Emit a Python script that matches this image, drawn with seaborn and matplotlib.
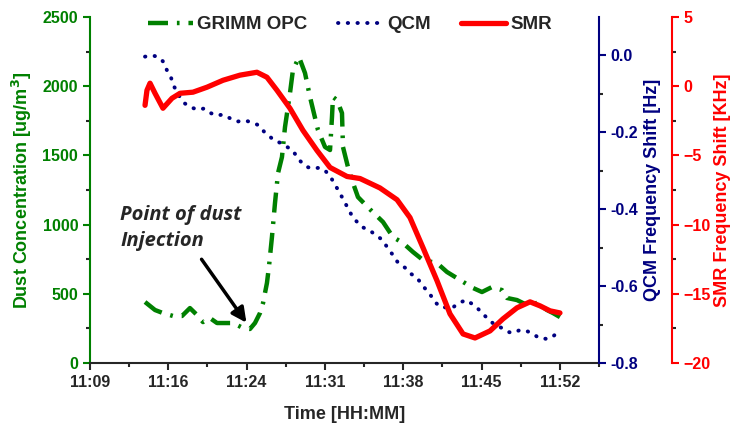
import matplotlib
matplotlib.use("Agg")
import matplotlib.pyplot as plt
from matplotlib.ticker import FixedLocator, MultipleLocator
import seaborn as sns
import pandas as pd

# time axis is in minutes after midnight (axis runs 0.465-0.4975 day)
x_ticks = [669.6, 676.8, 684.0, 691.2, 698.4, 705.6, 712.8]
x_labels = ["11:09", "11:16", "11:24", "11:31", "11:38", "11:45", "11:52"]

grimm_t = [674.66, 675.58, 676.31, 677.23, 678.06, 678.79, 679.44, 679.99, 680.63, 681.28,
           682.01, 682.75, 683.67, 684.31, 684.77, 685.23, 685.51, 685.69, 685.87, 686.06,
           686.33, 686.61, 686.89, 687.25, 687.53, 687.99, 688.26, 688.82, 689.37, 689.83,
           690.56, 691.21, 691.67, 691.85, 691.94, 692.31, 692.77, 692.86, 693.32, 693.78,
           694.24, 695.35, 696.54, 697.46, 698.38, 699.30, 700.22, 701.51, 702.42, 703.62,
           704.82, 705.64, 706.56, 707.48, 707.94, 708.86, 709.78, 710.70, 711.62, 712.17,
           712.81]
grimm_v = [441, 383, 361, 340, 340, 397, 347, 296, 325, 289,
           289, 289, 253, 246, 289, 361, 433, 506, 578, 700,
           910, 1156, 1373, 1488, 1705, 1951, 2117, 2211, 2095, 1922,
           1684, 1561, 1539, 1777, 1922, 1900, 1806, 1561, 1416, 1301,
           1199, 1110, 1019, 910, 867, 802, 744, 722, 658, 600,
           542, 513, 549, 527, 470, 455, 419, 434, 383, 361,
           332]

qcm_t = [674.66, 675.39, 675.94, 676.40, 676.68, 677.05, 677.23, 677.60, 677.88, 678.33,
         678.98, 679.53, 680.08, 680.63, 681.19, 681.83, 682.38, 683.12, 683.85, 684.59,
         685.14, 685.60, 686.15, 686.43, 687.07, 687.53, 688.17, 688.91, 689.46, 690.01,
         690.75, 691.30, 691.76, 692.13, 692.49, 692.86, 693.78, 694.61, 695.35, 696.45,
         696.91, 697.37, 697.92, 698.56, 699.11, 699.67, 700.13, 700.59, 700.95, 701.32,
         701.78, 702.88, 703.53, 704.17, 704.72, 705.28, 705.83, 706.29, 706.84, 707.48,
         708.03, 708.49, 709.14, 709.78, 710.33, 710.88, 711.53, 711.99, 712.54]
qcm_v = [-0.003, 0.000, -0.005, -0.018, -0.039, -0.057, -0.076, -0.094, -0.109, -0.125,
         -0.136, -0.141, -0.138, -0.149, -0.156, -0.154, -0.162, -0.172, -0.169, -0.175,
         -0.182, -0.198, -0.211, -0.219, -0.227, -0.235, -0.245, -0.274, -0.289, -0.294,
         -0.292, -0.302, -0.318, -0.336, -0.354, -0.373, -0.422, -0.446, -0.456, -0.479,
         -0.498, -0.516, -0.539, -0.552, -0.568, -0.578, -0.597, -0.612, -0.625, -0.641,
         -0.654, -0.657, -0.644, -0.636, -0.646, -0.659, -0.675, -0.688, -0.701, -0.709,
         -0.719, -0.722, -0.714, -0.717, -0.724, -0.735, -0.737, -0.735, -0.722]

smr_t = [674.66, 674.84, 675.12, 675.58, 676.31, 677.14, 677.88, 679.07, 680.36, 681.83,
         683.39, 684.95, 685.87, 686.79, 687.99, 689.18, 690.47, 691.67, 693.23, 694.43,
         696.26, 697.83, 699.02, 700.22, 701.51, 702.70, 703.90, 705.00, 706.38, 707.57,
         708.86, 710.06, 710.98, 711.90, 712.81]
smr_v = [-1.38, -0.29, 0.22, -0.51, -1.59, -0.87, -0.51, -0.43, -0.07, 0.43,
         0.80, 1.01, 0.65, -0.29, -1.60, -3.19, -4.64, -5.87, -6.52, -6.67,
         -7.35, -8.20, -9.49, -11.67, -14.06, -16.45, -17.90, -18.19, -17.68, -16.81,
         -16.01, -15.58, -15.87, -16.23, -16.38]

GREEN = "#008000"
NAVY = "#000080"
RED = "#ff0000"

sns.set_style("ticks")
plt.rcParams["font.family"] = ["Liberation Sans", "DejaVu Sans"]
plt.rcParams["font.weight"] = "bold"

fig = plt.figure(figsize=(7.48, 4.29), dpi=100)
ax = fig.add_axes([0.1203, 0.1538, 0.6805, 0.8065])
ax2 = ax.twinx()
ax3 = ax.twinx()

grimm = pd.DataFrame({"t": grimm_t, "v": grimm_v})
qcm = pd.DataFrame({"t": qcm_t, "v": qcm_v})
smr = pd.DataFrame({"t": smr_t, "v": smr_v})

sns.lineplot(data=grimm, x="t", y="v", ax=ax, color=GREEN, lw=3.2,
             linestyle=(0, (4.5, 2, 0.6, 2)), estimator=None, sort=False, label="GRIMM OPC")
sns.lineplot(data=qcm, x="t", y="v", ax=ax2, color=NAVY, lw=2.8,
             linestyle=(0, (0.1, 2.4)), dash_capstyle="round", estimator=None, sort=False, label="QCM")
sns.lineplot(data=smr, x="t", y="v", ax=ax3, color=RED, lw=3.8,
             estimator=None, sort=False, label="SMR")

for a in (ax, ax2, ax3):
    if a.get_legend() is not None:
        a.get_legend().remove()

# x axis
ax.set_xlim(669.6, 716.4)
ax.xaxis.set_major_locator(FixedLocator(x_ticks))
ax.set_xticklabels(x_labels)
ax.xaxis.set_minor_locator(FixedLocator([t + 3.6 for t in x_ticks]))
ax.set_xlabel("Time [HH:MM]", fontsize=13, fontweight="bold", labelpad=12)

# left axis
ax.set_ylim(0, 2500)
ax.yaxis.set_major_locator(MultipleLocator(500))
ax.yaxis.set_minor_locator(MultipleLocator(250))
ax.set_ylabel(r"Dust Concentration [ug/m$^\mathbf{3}$]", fontsize=13, fontweight="bold",
              color=GREEN, labelpad=6)
ax.tick_params(axis="y", colors=GREEN, labelsize=11.5)
ax.tick_params(axis="x", labelsize=11.5)
ax.spines["left"].set_color(GREEN)
ax.spines["left"].set_linewidth(1.5)
ax.spines["bottom"].set_linewidth(1.5)
ax.spines["top"].set_visible(False)
ax.spines["right"].set_visible(False)

# QCM axis
ax2.set_ylim(-0.8, 0.1)
ax2.yaxis.set_major_locator(FixedLocator([-0.8, -0.6, -0.4, -0.2, 0.0]))
ax2.yaxis.set_major_formatter(plt.FuncFormatter(lambda v, p: f"{v:.1f}"))
ax2.yaxis.set_minor_locator(FixedLocator([-0.7, -0.5, -0.3, -0.1]))
ax2.set_ylabel("QCM Frequency Shift [Hz]", fontsize=13, fontweight="bold", color=NAVY, labelpad=4)
ax2.tick_params(axis="y", colors=NAVY, labelsize=11.5)
for s in ("top", "left", "bottom"):
    ax2.spines[s].set_visible(False)
ax2.spines["right"].set_color(NAVY)
ax2.spines["right"].set_linewidth(1.5)

# SMR axis
ax3.spines["right"].set_position(("axes", 1.1434))
ax3.set_ylim(-20, 5)
ax3.yaxis.set_major_locator(MultipleLocator(5))
ax3.yaxis.set_minor_locator(MultipleLocator(2.5))
ax3.set_ylabel("SMR Frequency Shift [KHz]", fontsize=13, fontweight="bold", color=RED, labelpad=2)
ax3.tick_params(axis="y", colors=RED, labelsize=11.5)
for s in ("top", "left", "bottom"):
    ax3.spines[s].set_visible(False)
ax3.spines["right"].set_color(RED)
ax3.spines["right"].set_linewidth(1.5)

for a in (ax, ax2, ax3):
    a.tick_params(which="major", length=5, width=1.5)
    a.tick_params(which="minor", length=3, width=1.5)

# annotation
ax.text(672.36, 1145, "Point of dust\nInjection", fontsize=14.5, fontweight="bold",
        fontstyle="italic", family=["Open Sans", "DejaVu Sans"], ha="left", va="top",
        linespacing=1.4)
ax.annotate("", xy=(684.13, 275), xytext=(679.71, 766),
            arrowprops=dict(arrowstyle="-|>", color="black", lw=2.5, mutation_scale=22))

# legend
handles = ax.get_lines()[:1] + ax2.get_lines()[:1] + ax3.get_lines()[:1]
fig.legend(handles, ["GRIMM OPC", "QCM", "SMR"], loc="center",
           bbox_to_anchor=(0.468, 0.942), ncol=3, frameon=False,
           prop={"size": 13.5, "weight": "bold"}, handlelength=2.4,
           handletextpad=0.25, columnspacing=1.6)

fig.savefig("out.png", dpi=100)
